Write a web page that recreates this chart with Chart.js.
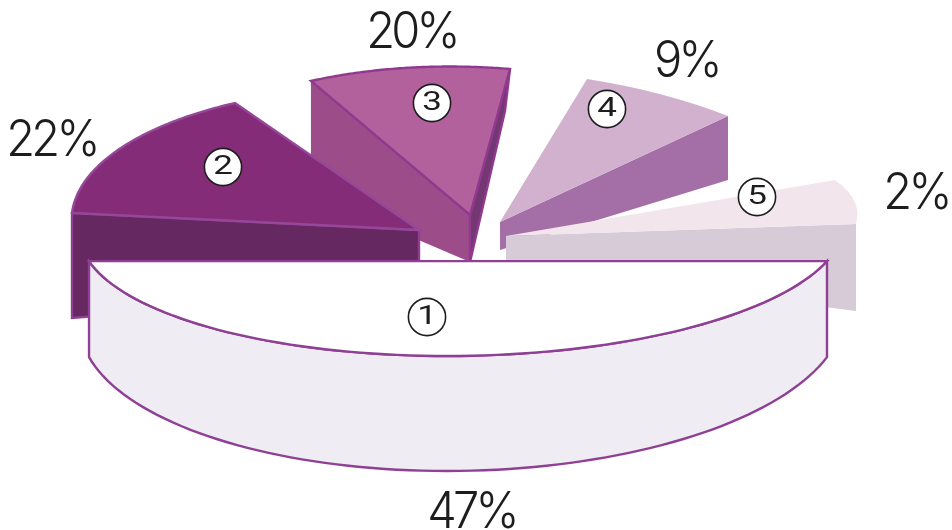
<html lang="en">
<head>
    <meta charset="UTF-8">
    <title>Exploded pie</title>
    <script src="https://cdn.jsdelivr.net/npm/chart.js@4"></script>
    <style>
        html, body { margin: 0; padding: 0; background: #fff; }
        canvas { display: block; }
    </style>
</head>
<body>
    <canvas id="graph" width="952" height="530"></canvas>

    <script>
        // data
        const categories = ['1', '2', '3', '4', '5'];
        const shares = [47, 22, 20, 9, 2];

        // colours
        const topColors = ['#ffffff', '#852c78', '#b2619c', '#d2b1cf', '#f3e5ec'];
        const edgeColors = ['#8f3f94', '#96479a', '#90398f', null, null];

        // perspective of each slice: [a, b, c, d, e, f] takes the unit circle to the page,
        // sweep stretches the slice angle the way the tilted drawing does.
        // flat: the slice is cut along its chord instead of running to the centre
        const sliceViews = [
            { matrix: [-15, 128, -382, 0, 461.9, 228], sweep: 0.88652, flat: true },
            { matrix: [-299.3, -81.2, 176.5, -119.1, 419, 230], sweep: 0.6944 },
            { matrix: [-62.6, -147.2, 322, -19.4, 470, 215], sweep: 0.5 },
            { matrix: [161.4, -127.6, 323.2, 84.8, 500, 222], sweep: 0.7778 },
            { matrix: [348.4, -34.9, 46.7, 97.8, 506, 236], sweep: 3.6111 }
        ];

        // side walls: which edge is extruded and by how much
        const sliceWalls = [
            [{ edge: 'rim', depth: 89.4, sag: 25.6, color: '#efedf3', stroke: '#8f3f94' }],
            [{ edge: 'start', rimDrop: [0, 105], apexDrop: [0, 60], color: '#662860', stroke: '#8f3f8f' }],
            [
                { edge: 'start', rimDrop: [0, 113], apexDrop: [0, 47], color: '#9c4c89' },
                { edge: 'end', rimDrop: [-5, 42], apexDrop: [0, 47], color: '#733771', stroke: '#90398f' }
            ],
            [{ edge: 'end', rimDrop: [0, 64], apexDrop: [0, 28], color: '#a46fa6' }],
            [{ edge: 'end', rimDrop: [0, 87], apexDrop: [0, 30], color: '#d6cbd6' }]
        ];

        const drawOrder = [2, 1, 3, 4, 0];

        // label places
        const shareLabelPos = [[471.5, 528], [51.5, 156], [411.5, 48], [686.5, 77], [916, 209]];
        const numberLabelPos = [[427, 317], [223, 167], [432, 103], [607, 109], [757, 197]];

        const textColor = '#1d1d1f';

        function halfSweep(el, i) {
            return el.circumference / 2 * sliceViews[i].sweep;
        }

        function project(i, t) {
            const m = sliceViews[i].matrix;
            const c = Math.cos(t), s = Math.sin(t);
            return [m[4] + m[0] * c + m[2] * s, m[5] + m[1] * c + m[3] * s];
        }

        function rimPoints(el, i) {
            const h = halfSweep(el, i);
            const pts = [];
            for (let k = 0; k <= 80; k++) {
                pts.push(project(i, -h + 2 * h * k / 80));
            }
            return pts;
        }

        function tracePath(ctx, pts, closed) {
            ctx.beginPath();
            pts.forEach((p, k) => k ? ctx.lineTo(p[0], p[1]) : ctx.moveTo(p[0], p[1]));
            if (closed) ctx.closePath();
        }

        function drawWall(ctx, el, i, wall) {
            const m = sliceViews[i].matrix;
            const apex = [m[4], m[5]];
            const rim = rimPoints(el, i);
            let outline;
            if (wall.edge === 'rim') {
                const h = halfSweep(el, i);
                const lower = rim.map((p, k) => {
                    const t = -h + 2 * h * k / 80;
                    return [p[0], p[1] + wall.depth + wall.sag * Math.cos(t)];
                });
                outline = rim.concat(lower.reverse());
            } else {
                const p = wall.edge === 'start' ? rim[0] : rim[rim.length - 1];
                outline = [
                    apex, p,
                    [p[0] + wall.rimDrop[0], p[1] + wall.rimDrop[1]],
                    [apex[0] + wall.apexDrop[0], apex[1] + wall.apexDrop[1]]
                ];
            }
            tracePath(ctx, outline, true);
            ctx.fillStyle = wall.color;
            ctx.fill();
            if (wall.stroke) {
                ctx.strokeStyle = wall.stroke;
                ctx.lineWidth = 2.4;
                ctx.stroke();
            }
        }

        // the arc element paints itself, only seen through the slice perspective
        function drawTop(ctx, el, i) {
            const view = sliceViews[i];
            const m = view.matrix;
            const mid = (el.startAngle + el.endAngle) / 2;
            const h = halfSweep(el, i);
            const rim = rimPoints(el, i);
            const outline = view.flat ? rim : [[m[4], m[5]]].concat(rim);
            const kept = [el.startAngle, el.endAngle, el.circumference];
            el.startAngle = mid - h;
            el.endAngle = mid + h;
            el.circumference = 2 * h;
            ctx.save();
            if (view.flat) {
                tracePath(ctx, outline, true);
                ctx.clip();
            }
            ctx.transform(m[0], m[1], m[2], m[3], m[4], m[5]);
            ctx.rotate(-mid);
            ctx.scale(1 / el.outerRadius, 1 / el.outerRadius);
            ctx.translate(-el.x, -el.y);
            el.draw(ctx);
            ctx.restore();
            [el.startAngle, el.endAngle, el.circumference] = kept;

            if (edgeColors[i]) {
                tracePath(ctx, outline, true);
                ctx.strokeStyle = edgeColors[i];
                ctx.lineWidth = 2.4;
                ctx.lineJoin = 'miter';
                ctx.stroke();
            }
        }

        function drawLabels(ctx) {
            ctx.textAlign = 'center';
            ctx.textBaseline = 'alphabetic';
            ctx.fillStyle = textColor;
            ctx.font = '300 50px Inter';
            shares.forEach((v, i) => {
                ctx.save();
                ctx.translate(shareLabelPos[i][0], shareLabelPos[i][1]);
                ctx.scale(0.94, 1);
                ctx.letterSpacing = '-4px';
                ctx.fillText(v + '%', 0, 0);
                ctx.restore();
            });
            categories.forEach((c, i) => {
                const p = numberLabelPos[i];
                ctx.beginPath();
                ctx.arc(p[0], p[1], 18.6, 0, Math.PI * 2);
                ctx.fillStyle = '#fff';
                ctx.fill();
                ctx.strokeStyle = textColor;
                ctx.lineWidth = 1.6;
                ctx.stroke();
                ctx.save();
                ctx.translate(p[0], p[1] + 1);
                ctx.scale(1.4, 1);
                ctx.fillStyle = textColor;
                ctx.font = '25px Roboto';
                ctx.textBaseline = 'middle';
                ctx.fillText(c, 0, 0);
                ctx.restore();
            });
        }

        const tiltedPie = {
            id: 'tiltedPie',
            beforeDatasetsDraw(chart) {
                const ctx = chart.ctx;
                const arcs = chart.getDatasetMeta(0).data;
                drawOrder.forEach(i => {
                    sliceWalls[i].forEach(w => drawWall(ctx, arcs[i], i, w));
                    drawTop(ctx, arcs[i], i);
                });
                drawLabels(ctx);
                return false;
            }
        };

        new Chart(document.getElementById('graph').getContext('2d'), {
            type: 'pie',
            data: {
                labels: categories,
                datasets: [{
                    data: shares,
                    backgroundColor: topColors,
                    borderWidth: 0
                }]
            },
            options: {
                responsive: false,
                animation: false,
                rotation: 90,
                plugins: { legend: { display: false }, tooltip: { enabled: false } }
            },
            plugins: [tiltedPie]
        });
    </script>
</body>
</html>
